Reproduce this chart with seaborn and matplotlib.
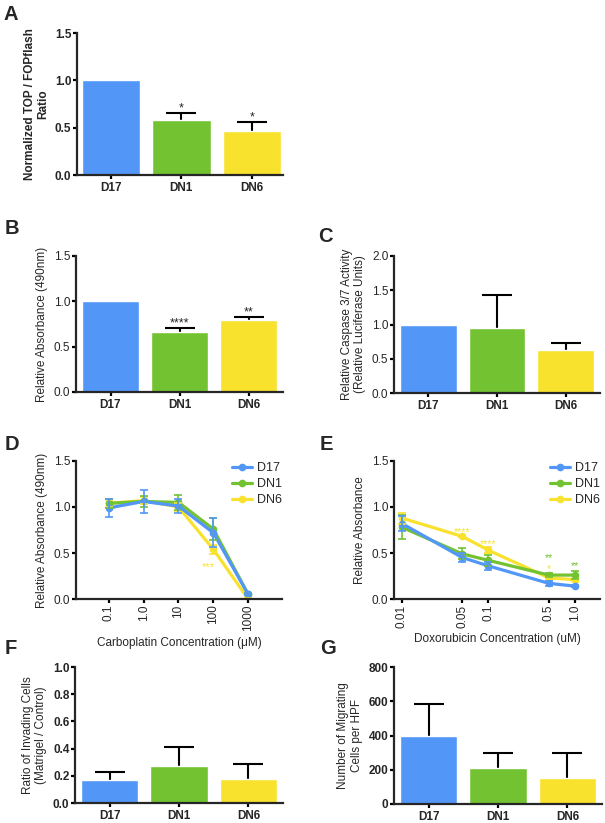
import matplotlib
matplotlib.use("Agg")
import matplotlib.pyplot as plt
from matplotlib.lines import Line2D
import numpy as np
import pandas as pd
import seaborn as sns

sns.set_style("ticks")
plt.rcParams['font.family'] = ['Liberation Sans', 'DejaVu Sans']

W, H = 605, 823

lines = ['D17', 'DN1', 'DN6']
colors = {'D17': '#5297F7', 'DN1': '#72C232', 'DN6': '#F8E22D'}

# A - TOP/FOPflash
topflash_mean = [1.0, 0.58, 0.47]
topflash_err = [0.0, 0.08, 0.09]
topflash_stars = ['', '*', '*']

# B - absorbance
absorb_mean = [1.0, 0.66, 0.79]
absorb_err = [0.0, 0.05, 0.04]
absorb_stars = ['', '****', '**']

# C - caspase
caspase_mean = [1.0, 0.95, 0.63]
caspase_err = [0.0, 0.48, 0.10]

# D - carboplatin
carbo_labels = ['0.1', '1.0', '10', '100', '1000']
carbo_mean = {'D17': [0.99, 1.06, 1.01, 0.72, 0.05],
              'DN1': [1.04, 1.06, 1.05, 0.76, 0.05],
              'DN6': [1.04, 1.07, 1.00, 0.54, 0.0]}
carbo_err = {'D17': [0.10, 0.12, 0.08, 0.16, 0.01],
             'DN1': [0.05, 0.055, 0.08, 0.12, 0.01],
             'DN6': [0.04, 0.04, 0.04, 0.05, 0.01]}

# E - doxorubicin
dox_conc = [0.01, 0.05, 0.1, 0.5, 1.0]
dox_labels = ['0.01', '0.05', '0.1', '0.5', '1.0']
dox_mean = {'D17': [0.82, 0.45, 0.36, 0.17, 0.14],
            'DN1': [0.78, 0.49, 0.42, 0.26, 0.26],
            'DN6': [0.88, 0.68, 0.53, 0.23, 0.21]}
dox_err = {'D17': [0.08, 0.05, 0.04, 0.03, 0.01],
           'DN1': [0.13, 0.06, 0.06, 0.02, 0.04],
           'DN6': [0.06, 0.01, 0.03, 0.01, 0.01]}
# (x, y, stars, colour line)
dox_stars = [(0.05, 0.70, '****', 'DN6'), (0.1, 0.565, '****', 'DN6'),
             (0.5, 0.41, '**', 'DN1'), (0.5, 0.295, '*', 'DN6'),
             (1.0, 0.32, '**', 'DN1')]

# F - invasion
invade_mean = [0.17, 0.27, 0.18]
invade_err = [0.06, 0.14, 0.11]

# G - migration
migrate_mean = [400, 210, 150]
migrate_err = [185, 85, 145]

TICK = 8.5
LABEL = 8.5

fig = plt.figure(figsize=(W / 100, H / 100), dpi=100)


def px_axes(x0, y0, x1, y1):
    return fig.add_axes([x0 / W, 1 - y1 / H, (x1 - x0) / W, (y1 - y0) / H])


def style_axes(ax):
    sns.despine(ax=ax)
    for s in ['left', 'bottom']:
        ax.spines[s].set_linewidth(1.6)
    ax.tick_params(width=1.6, length=3, pad=1, labelsize=TICK, color='black')


def letter(x, y, s):
    fig.text(x / W, 1 - y / H, s, fontsize=14.5, fontweight='bold', ha='left', va='center')


def bar_panel(ax, means, errs, ylim, yticks, ylabel, stars=None, bold_y=False,
              bold_label=False, xlim=(-0.5, 2.5), fmt='{:.1f}'):
    df = pd.DataFrame({'line': lines, 'value': means})
    sns.barplot(data=df, x='line', y='value', hue='line', palette=colors, width=0.83,
                saturation=1, legend=False, ax=ax, zorder=2.2)
    idx = [i for i, e in enumerate(errs) if e > 0]
    ax.errorbar(idx, [means[i] for i in idx], yerr=[errs[i] for i in idx], fmt='none',
                ecolor='black', elinewidth=1.5, capsize=11, capthick=1.5, zorder=2.1)
    if stars:
        for i, s in enumerate(stars):
            if s:
                ax.annotate(s, (i, means[i] + errs[i]), xytext=(0, 1), textcoords='offset points',
                            ha='center', va='baseline', fontsize=9)
    style_axes(ax)
    ax.set_xlim(*xlim)
    ax.set_ylim(*ylim)
    ax.set_yticks(yticks, [fmt.format(t) for t in yticks],
                  fontweight='bold' if bold_y else 'normal')
    ax.set_xlabel('')
    ax.set_ylabel(ylabel, fontsize=LABEL, fontweight='bold' if bold_label else 'normal', labelpad=4)
    for lab in ax.get_xticklabels():
        lab.set_fontweight('bold')
    ax.tick_params(axis='x', pad=2)


def line_panel(ax, xvals, means, errs):
    rows = []
    for ln in lines:
        for x, v in zip(xvals, means[ln]):
            rows.append({'x': x, 'value': v, 'line': ln})
    df = pd.DataFrame(rows)
    order = ['DN6', 'DN1', 'D17']
    sns.lineplot(data=df, x='x', y='value', hue='line', hue_order=order, palette=colors,
                 marker='o', markersize=5.5, markeredgewidth=0, linewidth=2.3,
                 errorbar=None, legend=False, ax=ax)
    for z, ln in enumerate(order):
        ax.errorbar(xvals, means[ln], yerr=errs[ln], fmt='none', ecolor=colors[ln],
                    elinewidth=1.2, capsize=3, capthick=1.2, zorder=2 + z * 0.1)
    handles = [Line2D([], [], color=colors[ln], marker='o', markersize=5.5,
                      markeredgewidth=0, linewidth=2.3) for ln in lines]
    ax.legend(handles, lines, frameon=False, loc='upper left', bbox_to_anchor=(0.755, 0.99),
              fontsize=9, handlelength=1.6, labelspacing=0.3, handletextpad=0.4,
              borderaxespad=0, borderpad=0)
    style_axes(ax)
    ax.set_ylim(0, 1.5)
    ax.set_yticks([0, 0.5, 1.0, 1.5], ['0.0', '0.5', '1.0', '1.5'])


# A
axA = px_axes(77, 33, 283, 175)
bar_panel(axA, topflash_mean, topflash_err, (0, 1.5), [0, 0.5, 1.0, 1.5],
          'Normalized TOP / FOPflash\nRatio', stars=topflash_stars, bold_y=True,
          bold_label=True, xlim=(-0.48, 2.44))
letter(3, 15, 'A')

# B
axB = px_axes(76, 256, 283, 392)
bar_panel(axB, absorb_mean, absorb_err, (0, 1.5), [0, 0.5, 1.0, 1.5],
          'Relative Absorbance (490nm)', stars=absorb_stars)
letter(5, 229, 'B')

# C
axC = px_axes(394, 256, 600, 393)
bar_panel(axC, caspase_mean, caspase_err, (0, 2.0), [0, 0.5, 1.0, 1.5, 2.0],
          'Relative Caspase 3/7 Activity\n(Relative Luciferase Units)')
letter(318, 237, 'C')

# D
axD = px_axes(76, 461, 282, 599)
carbo_pos = list(range(len(carbo_labels)))
line_panel(axD, carbo_pos, carbo_mean, carbo_err)
axD.set_xlim(-0.94, 4.97)
axD.set_xticks(carbo_pos, carbo_labels, rotation=90)
axD.set_xlabel('Carboplatin Concentration (\u03bcM)', fontsize=LABEL, labelpad=4)
axD.set_ylabel('Relative Absorbance (490nm)', fontsize=LABEL, labelpad=4)
axD.text(2.86, 0.31, '***', color=colors['DN6'], ha='center', va='baseline', fontsize=8)
letter(5, 444, 'D')

# E
axE = px_axes(394, 461, 600, 599)
line_panel(axE, dox_conc, dox_mean, dox_err)
axE.set_xscale('log')
axE.set_xlim(0.0081, 1.95)
axE.set_xticks(dox_conc, dox_labels, rotation=90)
axE.minorticks_off()
axE.set_xlabel('Doxorubicin Concentration (uM)', fontsize=LABEL, labelpad=4)
axE.set_ylabel('Relative Absorbance', fontsize=LABEL, labelpad=4)
for x, y, s, c in dox_stars:
    axE.text(x, y, s, color=colors[c], ha='center', va='baseline', fontsize=7.5)
letter(320, 444, 'E')

# F
axF = px_axes(75, 667, 283, 803)
bar_panel(axF, invade_mean, invade_err, (0, 1.0), [0, 0.2, 0.4, 0.6, 0.8, 1.0],
          'Ratio of Invading Cells\n(Matrigel / Control)', bold_y=True)
letter(5, 648, 'F')

# G
axG = px_axes(394, 667, 602, 804)
bar_panel(axG, migrate_mean, migrate_err, (0, 800), [0, 200, 400, 600, 800],
          'Number of Migrating\nCells per HPF', bold_y=True, fmt='{:.0f}')
letter(320, 649, 'G')

fig.savefig('out.png', dpi=100)
